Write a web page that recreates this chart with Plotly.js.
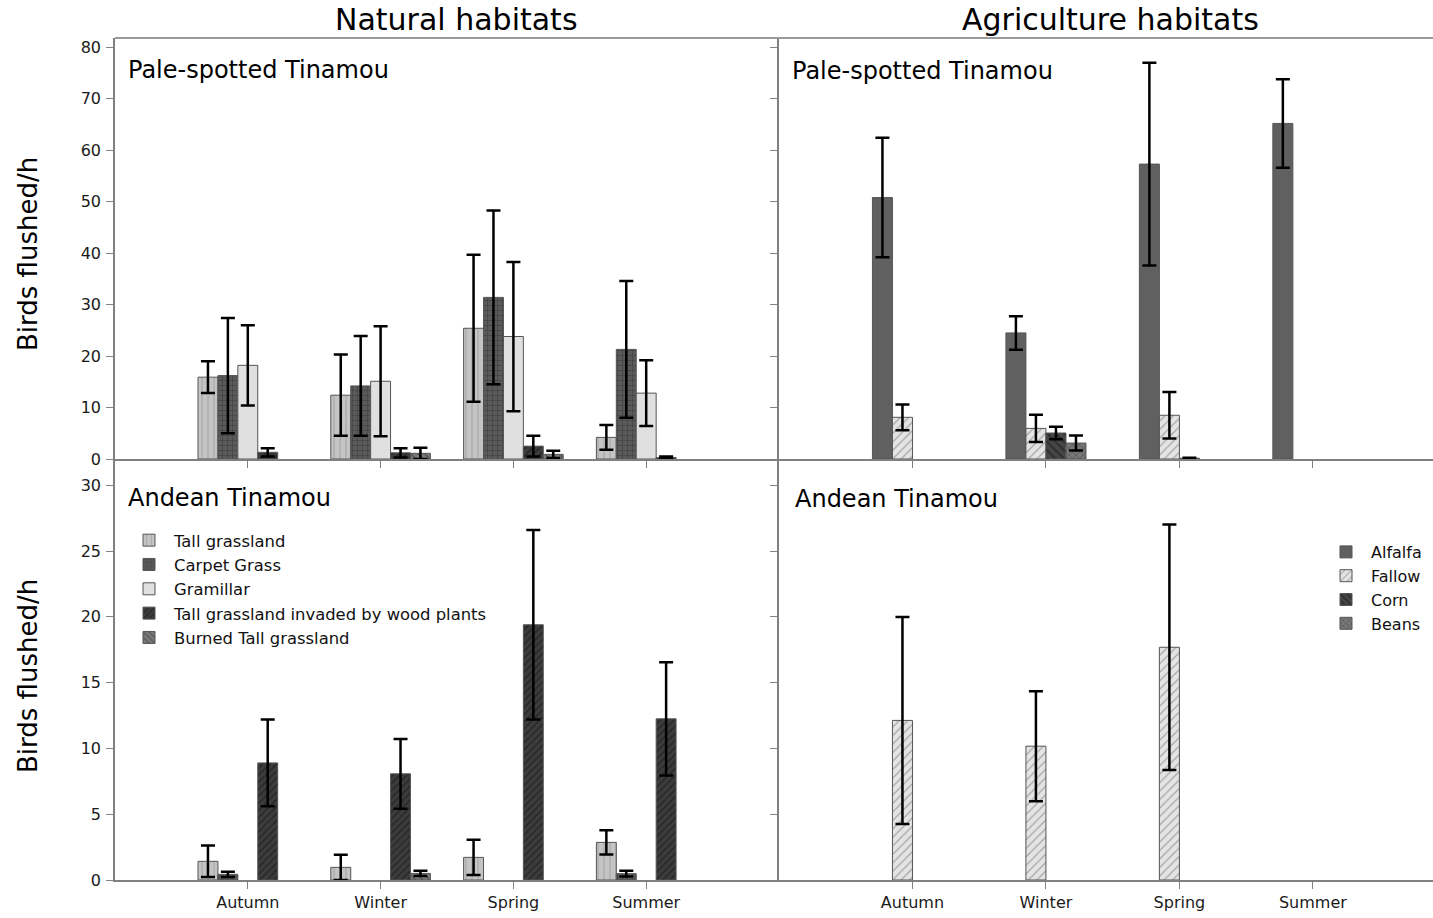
<!DOCTYPE html>
<html>
<head>
<meta charset="utf-8">
<script src="https://cdn.plot.ly/plotly-3.0.1.min.js"></script>
<style>
  html, body { margin: 0; padding: 0; background: #ffffff; }
  #chart { width: 1433px; height: 918px; }
</style>
</head>
<body>
<div id="chart"></div>
<script>
// ---------- DATA ----------
const seasons = ['Autumn', 'Winter', 'Spring', 'Summer'];

const naturalNames = ['Tall grassland', 'Carpet Grass', 'Gramillar',
  'Tall grassland invaded by wood plants', 'Burned Tall grassland'];
const agriNames = ['Alfalfa', 'Fallow', 'Corn', 'Beans'];

// Pale-spotted Tinamou, natural habitats (mean, error)
const paleTall       = [15.9, 12.4, 25.4, 4.2];
const paleTallErr    = [3.1, 7.9, 14.3, 2.4];
const paleCarpet     = [16.2, 14.2, 31.4, 21.3];
const paleCarpetErr  = [11.2, 9.7, 16.9, 13.3];
const paleGram       = [18.2, 15.1, 23.8, 12.8];
const paleGramErr    = [7.8, 10.7, 14.5, 6.4];
const paleInvaded    = [1.3, 1.2, 2.5, 0.3];
const paleInvadedErr = [0.8, 0.9, 2.0, 0.2];
const paleBurned     = [null, 1.1, 0.9, null];
const paleBurnedErr  = [null, 1.1, 0.7, null];

// Andean Tinamou, natural habitats
const andTall        = [1.42, 0.96, 1.72, 2.86];
const andTallErr     = [1.2, 0.96, 1.34, 0.92];
const andCarpet      = [0.43, null, null, 0.48];
const andCarpetErr   = [0.2, null, null, 0.22];
const andGram        = [null, null, null, null];
const andGramErr     = [null, null, null, null];
const andInvaded     = [8.9, 8.07, 19.4, 12.25];
const andInvadedErr  = [3.3, 2.65, 7.2, 4.3];
const andBurned      = [null, 0.5, null, null];
const andBurnedErr   = [null, 0.2, null, null];

// Pale-spotted Tinamou, agriculture habitats
const paleAlfalfa    = [50.8, 24.5, 57.3, 65.2];
const paleAlfalfaErr = [11.6, 3.25, 19.7, 8.6];
const paleFallow     = [8.1, 5.95, 8.5, null];
const paleFallowErr  = [2.5, 2.65, 4.5, null];
const paleCorn       = [null, 5.05, 0.15, null];
const paleCornErr    = [null, 1.2, 0.1, null];
const paleBeans      = [null, 3.1, null, null];
const paleBeansErr   = [null, 1.45, null, null];

// Andean Tinamou, agriculture habitats
const andAlfalfa     = [null, null, null, null];
const andAlfalfaErr  = [null, null, null, null];
const andFallow      = [12.13, 10.17, 17.69, null];
const andFallowErr   = [7.87, 4.18, 9.33, null];
const andCorn        = [null, null, null, null];
const andCornErr     = [null, null, null, null];
const andBeans       = [null, null, null, null];
const andBeansErr    = [null, null, null, null];

// ---------- STYLES ----------
const naturalStyles = [
  {bg: '#c4c4c4', fg: '#7a7a7a', shape: '|', size: 6, solidity: 0.15},
  {bg: '#5a5a5a', fg: '#1c1c1c', shape: '+', size: 5, solidity: 0.2},
  {bg: '#e0e0e0', fg: null, shape: '', size: 6, solidity: 0.2},
  {bg: '#3c3c3c', fg: '#111111', shape: '/', size: 5, solidity: 0.3},
  {bg: '#7a7a7a', fg: '#333333', shape: '\\', size: 5, solidity: 0.3}
];
const agriStyles = [
  {bg: '#606060', fg: null, shape: '', size: 6, solidity: 0.2},
  {bg: '#e4e4e4', fg: '#6a6a6a', shape: '/', size: 6, solidity: 0.22},
  {bg: '#454545', fg: '#111111', shape: '\\', size: 6, solidity: 0.3},
  {bg: '#777777', fg: '#333333', shape: 'x', size: 5, solidity: 0.25}
];

const BAR_W = 0.15;

function makeBar(name, vals, errs, style, idx, nBars, xa, ya, legend, showlegend) {
  const marker = {
    color: style.bg,
    line: {color: '#555555', width: 1}
  };
  if (style.shape) {
    marker.pattern = {shape: style.shape, bgcolor: style.bg, fgcolor: style.fg,
                      size: style.size, solidity: style.solidity, fillmode: 'overlay'};
  }
  return {
    type: 'bar', name: name, x: seasons, y: vals,
    xaxis: xa, yaxis: ya,
    width: BAR_W,
    offset: -BAR_W * nBars / 2 + BAR_W * idx,
    marker: marker,
    error_y: {type: 'data', array: errs, visible: true, color: '#000000', thickness: 2.5, width: 7},
    legend: legend, showlegend: showlegend,
    hoverinfo: 'x+y+name'
  };
}

const paleNat = [[paleTall, paleTallErr], [paleCarpet, paleCarpetErr], [paleGram, paleGramErr],
                 [paleInvaded, paleInvadedErr], [paleBurned, paleBurnedErr]];
const andNat  = [[andTall, andTallErr], [andCarpet, andCarpetErr], [andGram, andGramErr],
                 [andInvaded, andInvadedErr], [andBurned, andBurnedErr]];
const paleAgr = [[paleAlfalfa, paleAlfalfaErr], [paleFallow, paleFallowErr],
                 [paleCorn, paleCornErr], [paleBeans, paleBeansErr]];
const andAgr  = [[andAlfalfa, andAlfalfaErr], [andFallow, andFallowErr],
                 [andCorn, andCornErr], [andBeans, andBeansErr]];

const traces = [];
naturalNames.forEach((n, i) => {
  traces.push(makeBar(n, paleNat[i][0], paleNat[i][1], naturalStyles[i], i, 5, 'x', 'y', 'legend', false));
});
naturalNames.forEach((n, i) => {
  traces.push(makeBar(n, andNat[i][0], andNat[i][1], naturalStyles[i], i, 5, 'x3', 'y3', 'legend', true));
});
agriNames.forEach((n, i) => {
  traces.push(makeBar(n, paleAgr[i][0], paleAgr[i][1], agriStyles[i], i, 4, 'x2', 'y2', 'legend2', false));
});
agriNames.forEach((n, i) => {
  traces.push(makeBar(n, andAgr[i][0], andAgr[i][1], agriStyles[i], i, 4, 'x4', 'y4', 'legend2', true));
});

// ---------- LAYOUT ----------
const W = 1433, H = 918;
const xL = [115 / W, 779 / W];
const xR = [779 / W, 1];
const yTop = [(H - 459) / H, (H - 38) / H];
const yBot = [(H - 880) / H, (H - 459) / H];

const FONT = 'DejaVu Sans, Verdana, sans-serif';

function xaxis(domain, range, anchor, showLabels) {
  return {
    domain: domain, range: range, anchor: anchor, type: 'category',
    categoryorder: 'array', categoryarray: seasons,
    showline: true, linecolor: '#808080', linewidth: 1.5,
    mirror: false,
    ticks: 'outside', ticklen: 7, tickcolor: '#808080', tickwidth: 1,
    showticklabels: showLabels,
    tickfont: {family: FONT, size: 16, color: '#1a1a1a'},
    showgrid: false, zeroline: false, fixedrange: true
  };
}
function yaxis(domain, range, dtick, anchor, showLabels) {
  return {
    domain: domain, range: range, anchor: anchor, dtick: dtick, tick0: 0,
    showline: true, linecolor: '#808080', linewidth: 1.5,
    ticks: 'outside', ticklen: 7, tickcolor: '#808080', tickwidth: 1,
    showticklabels: showLabels,
    tickfont: {family: FONT, size: 16, color: '#1a1a1a'},
    ticklabelstandoff: 2,
    showgrid: false, zeroline: false, fixedrange: true
  };
}

const layout = {
  width: W, height: H,
  margin: {l: 0, r: 0, t: 0, b: 0},
  paper_bgcolor: '#ffffff', plot_bgcolor: 'rgba(0,0,0,0)',
  font: {family: FONT, color: '#111111'},
  barmode: 'overlay',
  xaxis:  xaxis(xL, [-1, 4], 'y', false),
  yaxis:  yaxis(yTop, [0, 81.8], 10, 'x', true),
  xaxis2: xaxis(xR, [-1, 3.9], 'y2', false),
  yaxis2: yaxis(yTop, [0, 81.8], 10, 'x2', false),
  xaxis3: xaxis(xL, [-1, 4], 'y3', true),
  yaxis3: yaxis(yBot, [0, 32], 5, 'x3', true),
  xaxis4: xaxis(xR, [-1, 3.9], 'y4', true),
  yaxis4: yaxis(yBot, [0, 32], 5, 'x4', false),
  legend: {
    x: 124 / W, y: (H - 523) / H, xanchor: 'left', yanchor: 'top',
    bgcolor: 'rgba(0,0,0,0)', borderwidth: 0,
    font: {family: FONT, size: 16.4, color: '#111111'},
    itemwidth: 40, tracegroupgap: 0, traceorder: 'normal'
  },
  legend2: {
    x: 1321 / W, y: (H - 535) / H, xanchor: 'left', yanchor: 'top',
    bgcolor: 'rgba(0,0,0,0)', borderwidth: 0,
    font: {family: FONT, size: 16, color: '#111111'},
    itemwidth: 40, tracegroupgap: 0, traceorder: 'normal'
  },
  shapes: [
    {type: 'line', xref: 'paper', yref: 'paper', x0: 115 / W, x1: 1, y0: (H - 38) / H, y1: (H - 38) / H,
     line: {color: '#999999', width: 2}}
  ],
  annotations: [
    {text: 'Natural habitats', xref: 'paper', yref: 'paper', x: 457 / W, y: (H - 20) / H,
     xanchor: 'center', yanchor: 'middle', showarrow: false, font: {family: FONT, size: 30, color: '#000'}},
    {text: 'Agriculture habitats', xref: 'paper', yref: 'paper', x: 1110 / W, y: (H - 20) / H,
     xanchor: 'center', yanchor: 'middle', showarrow: false, font: {family: FONT, size: 30, color: '#000'}},
    {text: 'Birds flushed/h', xref: 'paper', yref: 'paper', x: 28 / W, y: (H - 254) / H, textangle: -90,
     xanchor: 'center', yanchor: 'middle', showarrow: false, font: {family: FONT, size: 26, color: '#000'}},
    {text: 'Birds flushed/h', xref: 'paper', yref: 'paper', x: 28 / W, y: (H - 676) / H, textangle: -90,
     xanchor: 'center', yanchor: 'middle', showarrow: false, font: {family: FONT, size: 26, color: '#000'}},
    {text: 'Pale-spotted Tinamou', xref: 'paper', yref: 'paper', x: 126 / W, y: (H - 70) / H,
     xanchor: 'left', yanchor: 'middle', showarrow: false, font: {family: FONT, size: 24, color: '#000'}},
    {text: 'Pale-spotted Tinamou', xref: 'paper', yref: 'paper', x: 790 / W, y: (H - 71) / H,
     xanchor: 'left', yanchor: 'middle', showarrow: false, font: {family: FONT, size: 24, color: '#000'}},
    {text: 'Andean Tinamou', xref: 'paper', yref: 'paper', x: 126 / W, y: (H - 498) / H,
     xanchor: 'left', yanchor: 'middle', showarrow: false, font: {family: FONT, size: 24, color: '#000'}},
    {text: 'Andean Tinamou', xref: 'paper', yref: 'paper', x: 793 / W, y: (H - 499) / H,
     xanchor: 'left', yanchor: 'middle', showarrow: false, font: {family: FONT, size: 24, color: '#000'}}
  ]
};

Plotly.newPlot('chart', traces, layout, {displayModeBar: false, responsive: false});
</script>
</body>
</html>
